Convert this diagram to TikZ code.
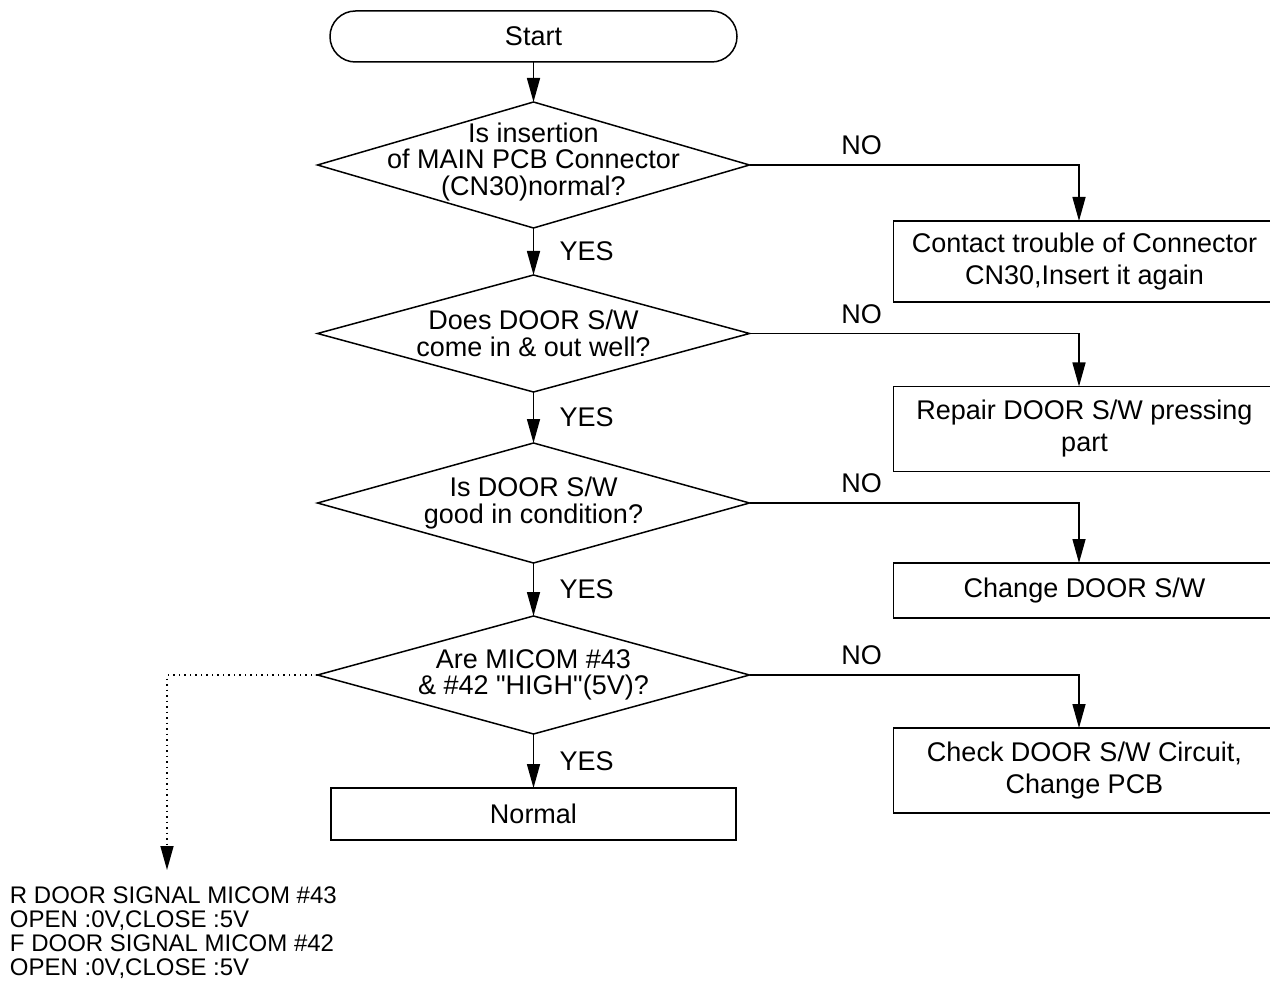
\documentclass[tikz,border=0pt]{standalone}
\usepackage{fontspec}
\setmainfont{Liberation Sans}[Ligatures=TeXOff]
\usetikzlibrary{arrows.meta, positioning, shapes.geometric}

\begin{document}
\begin{tikzpicture}[
  x=0.5pt, y=-0.5pt, line width=0.75pt,
  every node/.style={font=\fontsize{13.5}{16}\selectfont, align=center, outer sep=0pt},
  terminal/.style={draw, rounded corners=12.7pt, minimum width=203.5pt, minimum height=25.5pt, inner sep=0pt},
  decision/.style={draw, diamond, minimum width=216pt, inner sep=0pt},
  qtext/.style={font=\fontsize{13.5}{13.2}\selectfont, inner sep=0pt},
  action/.style={draw, rectangle, minimum width=191pt, inner sep=0pt},
  lbl/.style={inner sep=2pt},
  note/.style={font=\fontsize{12}{11.9}\selectfont, align=left, inner sep=0pt},
  arr/.style={-{Triangle[length=12pt, width=6.5pt]}}
]
  \useasboundingbox (0,0) rectangle (1270,984);

  % main column
  \node[terminal] (start) at (533.5,36.5) {Start};
  \node[decision, minimum height=63pt, below=20pt of start] (q1) {};
  \node[qtext] (q1txt) at ([yshift=1.5pt]q1) {Is insertion\\of MAIN PCB Connector\\(CN30)normal?};
  \node[decision, minimum height=58.5pt, below=23.5pt of q1] (q2) {};
  \node[qtext] (q2txt) at (q2) {Does DOOR S/W\\come in \& out well?};
  \node[decision, minimum height=60pt, below=25.5pt of q2] (q3) {};
  \node[qtext] (q3txt) at (q3) {Is DOOR S/W\\good in condition?};
  \node[decision, minimum height=59pt, below=26.5pt of q3] (q4) {};
  \node[qtext] (q4txt) at (q4) {Are MICOM \#43\\\& \#42 "HIGH"(5V)?};
  \node[action, minimum width=202.5pt, minimum height=26pt, below=27pt of q4] (normal) {Normal};

  % right column
  \node[action, minimum height=40.5pt, below right=28pt and 72pt of q1.east] (fix1) {Contact trouble of Connector\\CN30,Insert it again};
  \node[action, minimum height=42.5pt, below right=26.5pt and 72pt of q2.east] (fix2) {Repair DOOR S/W pressing\\part};
  \node[action, minimum height=27.5pt, below right=30pt and 72pt of q3.east] (fix3) {Change DOOR S/W};
  \node[action, minimum height=42.5pt, below right=26.5pt and 72pt of q4.east] (fix4) {Check DOOR S/W Circuit,\\Change PCB};
  \coordinate (nocol) at (1079,0);

  % note
  \coordinate (notetip) at (167,870);
  \node[note, anchor=north west] (note) at (10,887) {R DOOR SIGNAL MICOM \#43\\OPEN :0V,CLOSE :5V\\F DOOR SIGNAL MICOM \#42\\OPEN :0V,CLOSE :5V};

  \draw[arr] (start) -- (q1);
  \draw[arr] (q1) -- node[lbl, right=11pt] (yes1) {YES} (q2);
  \draw[arr] (q2) -- node[lbl, right=11pt] (yes2) {YES} (q3);
  \draw[arr] (q3) -- node[lbl, right=11pt] (yes3) {YES} (q4);
  \draw[arr] (q4) -- node[lbl, right=11pt] (yes4) {YES} (normal);

  \draw[arr] (q1.east) -| node[lbl, pos=0.17, above=3pt] (no1) {NO} (nocol |- fix1.north);
  \draw[arr] (q2.east) -| node[lbl, pos=0.17, above=3pt] (no2) {NO} (nocol |- fix2.north);
  \draw[arr] (q3.east) -| node[lbl, pos=0.17, above=3pt] (no3) {NO} (nocol |- fix3.north);
  \draw[arr] (q4.east) -| node[lbl, pos=0.17, above=3pt] (no4) {NO} (nocol |- fix4.north);

  \draw[arr, dotted] (q4.west) -| (notetip);
\end{tikzpicture}
\end{document}
